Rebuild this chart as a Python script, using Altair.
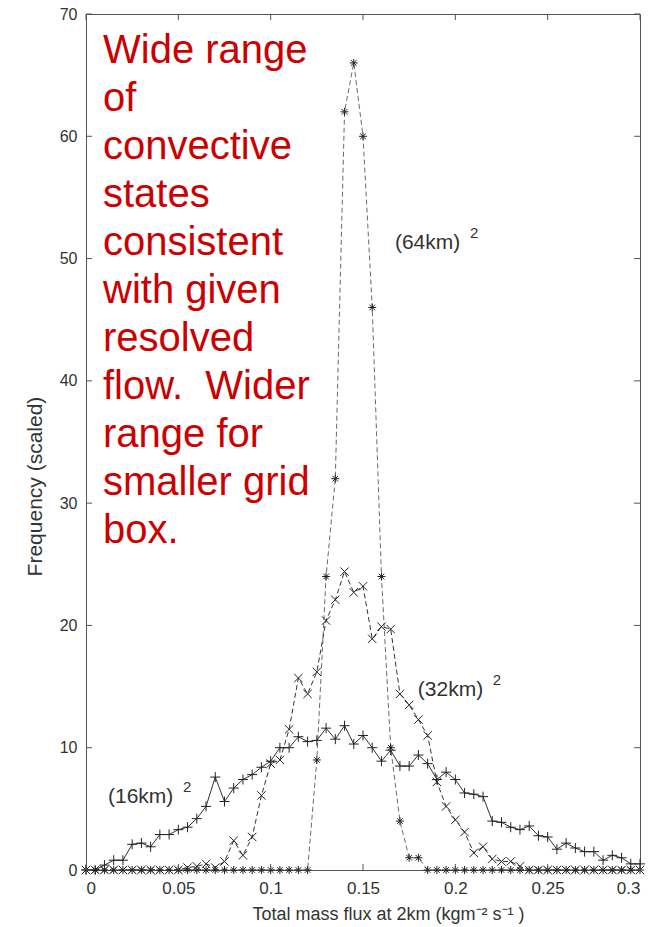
import altair as alt
import pandas as pd

# ---------------- data ----------------
flux = [0.0, 0.005, 0.01, 0.015, 0.02, 0.025, 0.03, 0.035, 0.04, 0.045,
        0.05, 0.055, 0.06, 0.065, 0.07, 0.075, 0.08, 0.085, 0.09, 0.095,
        0.1, 0.105, 0.11, 0.115, 0.12, 0.125, 0.13, 0.135, 0.14, 0.145,
        0.15, 0.155, 0.16, 0.165, 0.17, 0.175, 0.18, 0.185, 0.19, 0.195,
        0.2, 0.205, 0.21, 0.215, 0.22, 0.225, 0.23, 0.235, 0.24, 0.245,
        0.25, 0.255, 0.26, 0.265, 0.27, 0.275, 0.28, 0.285, 0.29, 0.295,
        0.3]

freq_16km = [0, 0, 0.4, 0.8, 0.8, 2.1, 2.2, 1.9, 2.9, 2.9,
             3.3, 3.5, 4.2, 5.2, 7.6, 5.6, 6.7, 7.4, 7.8, 8.4,
             8.9, 10.0, 10.0, 10.9, 10.5, 10.6, 11.6, 10.7, 11.8, 10.3,
             11.0, 10.0, 8.9, 9.8, 8.5, 8.5, 9.4, 8.7, 7.4, 8.0,
             7.4, 6.3, 6.2, 6.0, 4.0, 3.9, 3.5, 3.3, 3.6, 2.8,
             2.7, 1.7, 2.2, 1.8, 1.5, 1.5, 0.8, 1.2, 1.0, 0.5,
             0.5]

freq_32km = [0, 0, 0, 0, 0, 0, 0, 0, 0, 0,
             0, 0.2, 0.3, 0.5, 0.2, 0.7, 2.4, 1.2, 2.7, 6.1,
             8.7, 9.0, 11.5, 15.7, 14.4, 16.2, 20.4, 22.1, 24.4, 22.7,
             23.2, 18.9, 19.9, 19.7, 14.4, 13.5, 12.3, 11.0, 7.2, 5.2,
             4.1, 3.1, 1.4, 1.9, 0.9, 0.7, 0.7, 0.3, 0, 0,
             0, 0, 0, 0, 0, 0, 0, 0, 0, 0,
             0]

freq_64km = [0, 0, 0, 0, 0, 0, 0, 0, 0, 0,
             0, 0, 0, 0, 0, 0, 0, 0, 0, 0,
             0, 0, 0, 0, 0, 9, 24, 32, 62, 66,
             60, 46, 24, 10, 4, 1, 1, 0, 0, 0,
             0, 0, 0, 0, 0, 0, 0, 0, 0, 0,
             0, 0, 0, 0, 0, 0, 0, 0, 0, 0,
             0]

x_ticks = [0, 0.05, 0.1, 0.15, 0.2, 0.25, 0.3]
y_ticks = [0, 10, 20, 30, 40, 50, 60, 70]

label_text = ["(64km)", "(32km)", "(16km)"]
label_sup = ["2", "2", "2"]
label_x = [0.1673, 0.1797, 0.0119]
label_y = [51.3, 14.7, 6.0]

note_lines = ["Wide range", "of", "convective", "states", "consistent",
              "with given", "resolved", "flow.\u00a0 Wider", "range for",
              "smaller grid", "box."]
note_x = [0.0092]
note_y = [67.0]

# ---------------- chart ----------------
W, H = 554, 856
FONT = "Liberation Sans"
INK = "#333333"

xs = alt.Scale(domain=[0, 0.3], nice=False, zero=False)
ys = alt.Scale(domain=[0, 70], nice=False)

x_axis = alt.Axis(values=x_ticks, format="~g", grid=False, domain=False,
                  ticks=False, labelFontSize=17, labelColor=INK,
                  labelFont=FONT, labelPadding=10,
                  title="Total mass flux at 2km (kgm\u207b\u00b2 s\u207b\u00b9 )",
                  titleFont=FONT, titleFontSize=18, titleFontWeight="normal",
                  titleColor=INK, titleX=302, titleY=44,
                  titleAlign="center", titleBaseline="middle")
y_axis = alt.Axis(values=y_ticks, grid=False, domain=False, ticks=False,
                  labelFontSize=16, labelColor=INK, labelFont=FONT,
                  labelPadding=9,
                  title="Frequency (scaled)", titleFont=FONT,
                  titleFontSize=21, titleFontWeight="normal",
                  titleColor=INK, titleX=-51, titleY=472, titleAngle=270,
                  titleAlign="center", titleBaseline="middle")


def X(field):
    return alt.X(field, scale=xs, axis=x_axis)


def Y(field):
    return alt.Y(field, scale=ys, axis=y_axis)


df16 = pd.DataFrame({"flux": flux, "freq": freq_16km})
df32 = pd.DataFrame({"flux": flux, "freq": freq_32km})
df64 = pd.DataFrame({"flux": flux, "freq": freq_64km})

PLUS = "M-1,0L1,0M0,-1L0,1"
CROSS = "M-1,-1L1,1M-1,1L1,-1"
STAR = "M-1,0L1,0M0,-1L0,1M-0.7,-0.7L0.7,0.7M-0.7,0.7L0.7,-0.7"


def series(df, line_color, dash, shape, size):
    line_kw = dict(color=line_color, strokeWidth=1, clip=True)
    if dash:
        line_kw["strokeDash"] = dash
    line = alt.Chart(df).mark_line(**line_kw).encode(x=X("flux:Q"), y=Y("freq:Q"))
    pts = alt.Chart(df).mark_point(shape=shape, filled=False, size=size,
                                   strokeWidth=1, color="#222222",
                                   opacity=1).encode(x=X("flux:Q"), y=Y("freq:Q"))
    return [line, pts]


layers = []
layers += series(df64, "#6a6a6a", [5, 3], STAR, 64)
layers += series(df32, "#333333", [5, 3], CROSS, 70)
layers += series(df16, "#333333", None, PLUS, 100)

# inward ticks (box style)
xt = pd.DataFrame({"flux": x_ticks})
yt = pd.DataFrame({"freq": y_ticks})
TK = "#555555"
layers.append(alt.Chart(xt).mark_rule(color=TK, strokeWidth=1).encode(
    x=X("flux:Q"), y=alt.value(H), y2=alt.value(H - 6)))
layers.append(alt.Chart(xt).mark_rule(color=TK, strokeWidth=1).encode(
    x=X("flux:Q"), y=alt.value(0), y2=alt.value(6)))
layers.append(alt.Chart(yt).mark_rule(color=TK, strokeWidth=1).encode(
    y=Y("freq:Q"), x=alt.value(0), x2=alt.value(6)))
layers.append(alt.Chart(yt).mark_rule(color=TK, strokeWidth=1).encode(
    y=Y("freq:Q"), x=alt.value(W), x2=alt.value(W - 6)))

# series labels with superscript
lab = pd.DataFrame({"flux": label_x, "freq": label_y, "t": label_text,
                    "s": label_sup})
layers.append(alt.Chart(lab).mark_text(align="left", baseline="middle",
                                       fontSize=21, font=FONT, color=INK).encode(
    x=X("flux:Q"), y=Y("freq:Q"), text="t:N"))
layers.append(alt.Chart(lab).mark_text(align="left", baseline="middle",
                                       fontSize=15, font=FONT, color=INK,
                                       dx=75, dy=-10).encode(
    x=X("flux:Q"), y=Y("freq:Q"), text="s:N"))

# red annotation
note = pd.DataFrame({"flux": note_x, "freq": note_y,
                     "t": ["\n".join(note_lines)]})
layers.append(alt.Chart(note).mark_text(align="left", baseline="middle",
                                        fontSize=40, lineHeight=48,
                                        lineBreak="\n", font=FONT,
                                        color="#cc0000").encode(
    x=X("flux:Q"), y=Y("freq:Q"), text="t:N"))

chart = alt.layer(*layers).properties(
    width=W, height=H,
    autosize=alt.AutoSizeParams(type="none"),
    padding={"left": 86, "top": 14, "right": 18, "bottom": 57},
    background="white",
).configure_view(stroke="#555555", strokeWidth=1)

chart.save("out.html", embed_options={"renderer": "svg", "actions": False})
